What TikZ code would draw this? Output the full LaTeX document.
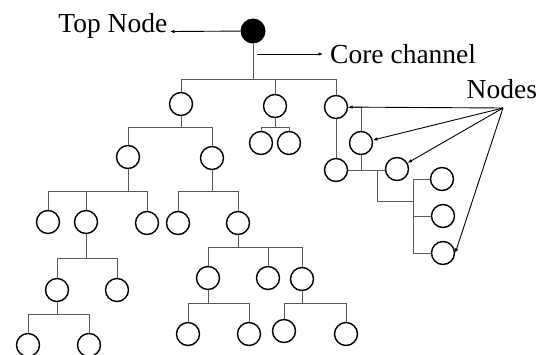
\documentclass[tikz,border=0pt]{standalone}
\usepackage{fontspec}
\setmainfont{Liberation Serif}
\usetikzlibrary{arrows.meta}
\begin{document}
\begin{tikzpicture}[x=1pt,y=-1pt,
  nd/.style={circle,draw=black,line width=1.4pt,minimum size=23pt,inner sep=0pt},
  topnd/.style={circle,fill=black,minimum size=25pt,inner sep=0pt},
  conn/.style={draw=black!65,line width=1pt},
  arr/.style={draw=black,line width=0.9pt,-{Latex[length=4.5pt,width=3.5pt]}},
  lbl/.style={font=\fontsize{27.5}{30}\selectfont,inner sep=0pt}]
\path[use as bounding box,clip] (0,0) rectangle (540,354);
% nodes
\node[topnd] (top) at (253,31) {};
\node[nd] (A) at (181,104) {};
\node[nd] (B) at (275,106) {};
\node[nd] (C) at (336,107) {};
\node[nd] (B1) at (261,143) {};
\node[nd] (B2) at (289,143) {};
\node[nd] (D) at (361,143) {};
\node[nd] (E) at (336,170) {};
\node[nd] (F) at (397,169) {};
\node[nd] (G) at (442,179) {};
\node[nd] (H) at (443,216) {};
\node[nd] (I) at (443,253) {};
\node[nd] (A1) at (128,157) {};
\node[nd] (A2) at (212,158) {};
\node[nd] (A11) at (48,222) {};
\node[nd] (A12) at (86,222) {};
\node[nd] (A13) at (147,223) {};
\node[nd] (A21) at (178,223) {};
\node[nd] (A22) at (238,223) {};
\node[nd] (A121) at (57,290) {};
\node[nd] (A122) at (117,290) {};
\node[nd] (A1211) at (28,345) {};
\node[nd] (A1212) at (89,345) {};
\node[nd] (A221) at (208,278) {};
\node[nd] (A222) at (268,278) {};
\node[nd] (A223) at (302,279) {};
\node[nd] (A2211) at (188,334) {};
\node[nd] (A2212) at (249,334) {};
\node[nd] (A2231) at (284,331) {};
\node[nd] (A2232) at (346,334) {};
% labels
\node[lbl,anchor=base east] (ltop) at (167.5,32) {Top Node};
\node[lbl,anchor=base west] (lcore) at (330,63) {Core channel};
\node[lbl,anchor=base west] (lnodes) at (466.5,98) {Nodes};
% tree connectors
\draw[conn] (top.south) -- (top |- 0,79);
\draw[conn] (A.north) |- (C.north |- 0,79) -- (C.north);
\draw[conn] (B.north) -- (B |- 0,79);
% A
\draw[conn] (A.south) -- (A |- 0,127);
\draw[conn] (A1.north) |- (A2.north |- 0,127) -- (A2.north);
% B
\draw[conn] (B.south) -- (B |- 0,127);
\draw[conn] (B1.north) |- (B2.north |- 0,127) -- (B2.north);
% C
\draw[conn] (C.east) -| (D.north);
\draw[conn] (C.south) -- (E.north);
\draw[conn] (E.east) -- (E.east -| F.west);
\draw[conn] (D.south) -- (D |- E.east);
\coordinate (j1) at (377,170);
\coordinate (j2) at (413,201);
\draw[conn] (j1) |- (j2);
\draw[conn] (G.west) -- (G.west -| j2) -- (I.west -| j2) -- (I.west);
\draw[conn] (H.west) -- (H.west -| j2);
% A1
\draw[conn] (A1.south) -- (A1 |- 0,191);
\draw[conn] (A11.north) |- (A13.north |- 0,191) -- (A13.north);
\draw[conn] (A12.north) -- (A12 |- 0,191);
% A2
\draw[conn] (A2.south) -- (A2 |- 0,191);
\draw[conn] (A21.north) |- (A22.north |- 0,191) -- (A22.north);
% A12
\draw[conn] (A12.south) -- (A12 |- 0,258);
\draw[conn] (A121.north) |- (A122.north |- 0,258) -- (A122.north);
% A121
\draw[conn] (A121.south) -- (A121 |- 0,314);
\draw[conn] (A1211.north) |- (A1212.north |- 0,314) -- (A1212.north);
% A22
\draw[conn] (A22.south) -- (A22 |- 0,247);
\draw[conn] (A221.north) |- (A223.north |- 0,247) -- (A223.north);
\draw[conn] (A222.north) -- (A222 |- 0,247);
% A221
\draw[conn] (A221.south) -- (A221 |- 0,303);
\draw[conn] (A2211.north) |- (A2212.north |- 0,303) -- (A2212.north);
% A223
\draw[conn] (A223.south) -- (A223 |- 0,303);
\draw[conn] (A2231.north) |- (A2232.north |- 0,303) -- (A2232.north);
% label arrows
\coordinate (tTop) at (170,31.5);
\draw[arr] (top) -- (tTop);
\coordinate (cs) at (257,54);
\coordinate (ce) at (323,54);
\draw[arr] (cs) -- (ce);
\coordinate (ns) at (503,108);
\draw[arr] (ns) -- (C);
\draw[arr] (ns) -- (D);
\draw[arr] (ns) -- (F);
\draw[arr] (ns) -- (I.east);
\end{tikzpicture}
\end{document}
